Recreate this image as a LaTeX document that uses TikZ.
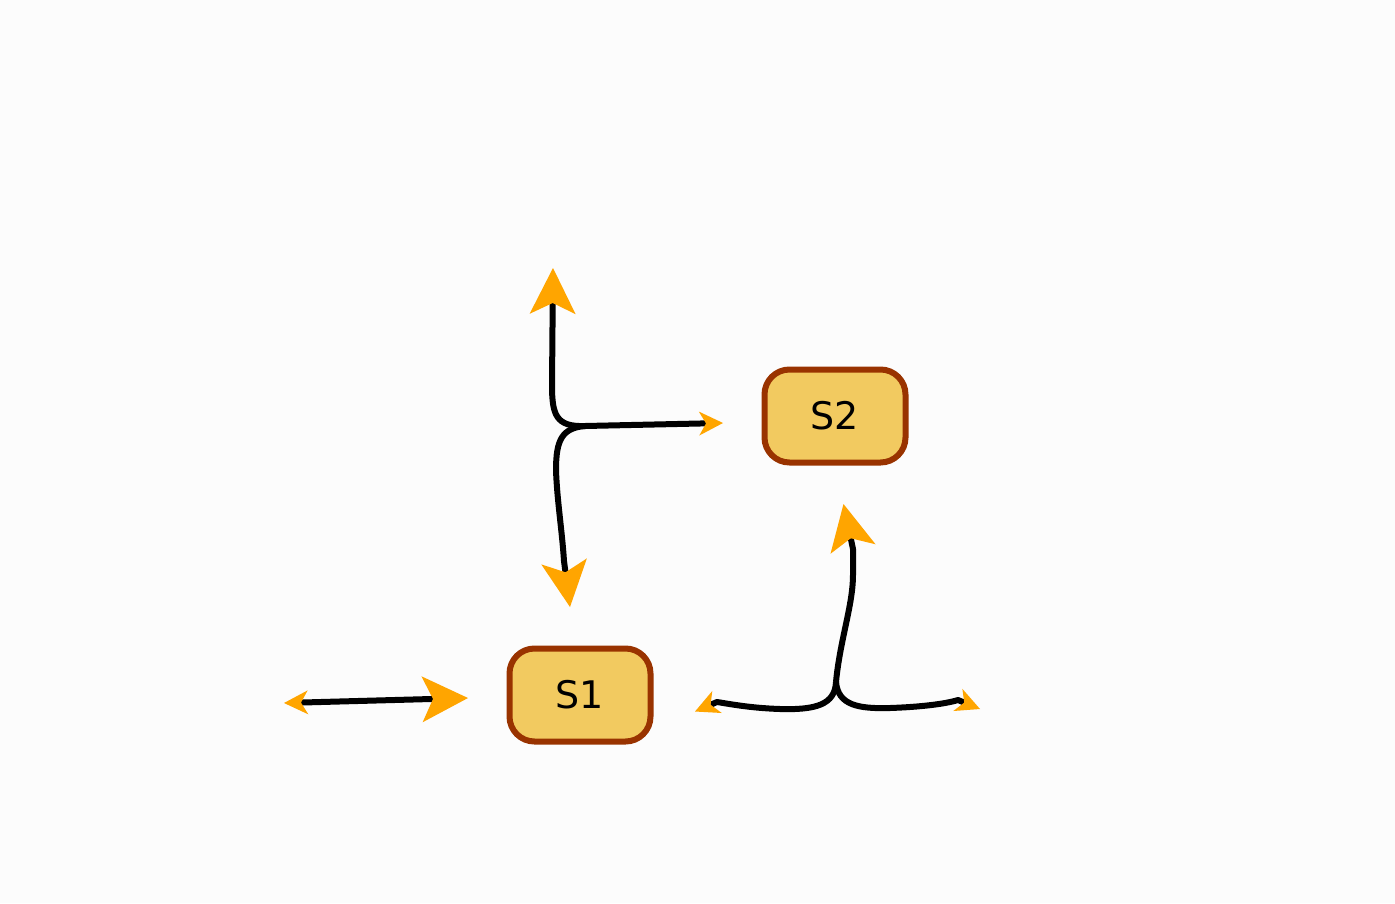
\documentclass[tikz,border=0pt]{standalone}
\usepackage{fontspec}
\setmainfont{DejaVu Sans}
\usetikzlibrary{arrows.meta}
\definecolor{pagebg}{HTML}{FCFCFC}
\definecolor{statefill}{HTML}{F2CA60}
\definecolor{stateline}{HTML}{993300}
\definecolor{headcol}{HTML}{FFA500}
\begin{document}
\begin{tikzpicture}[x=1pt,y=-1pt,
  BigHead/.tip={Stealth[length=46pt,width=46pt,inset=11pt,line width=0pt,color=headcol]},
  SmallHead/.tip={Stealth[length=24pt,width=24pt,inset=7pt,line width=0pt,color=headcol]},
  conn/.style={line width=6pt,draw=black,line join=round},
  state/.style={draw=stateline,fill=statefill,line width=6pt,rounded corners=25pt,
    minimum width=141pt,minimum height=93pt,inner sep=0pt,
    font=\fontsize{38}{40}\selectfont}]
  % page
  \fill[pagebg] (0,0) rectangle (1395,903);
  \useasboundingbox (0,0) rectangle (1395,903);

  % states
  \node[state] (s1) at (580,695) {S1};
  \node[state] (s2) at (835,416) {S2};

  % upper fork
  \coordinate (ja) at (585,426);
  \coordinate (ua) at (553,268);
  \coordinate (ra) at (723,423);
  \coordinate (da) at (570,607);
  \draw[conn,-BigHead] (ja) .. controls (556,427) and (552,415) .. (552,385) -- (ua);
  \draw[conn,-SmallHead] (ja) -- (ra);
  \draw[conn,-BigHead] (ja) .. controls (562,428) and (556,440) .. (556,470)
    .. controls (557,500) and (562,530) .. (564,561) -- (da);

  % double-headed arrow on the left
  \coordinate (bl) at (284,703);
  \coordinate (br) at (468,698);
  \draw[conn,SmallHead-BigHead] (bl) -- (br);

  % lower fork
  \coordinate (jc) at (836,682);
  \coordinate (uc) at (843.5,504);
  \coordinate (lc) at (695,711.5);
  \coordinate (rc) at (980,709);
  \draw[conn,-BigHead] (jc) .. controls (840,640) and (853,605) .. (853,575)
    -- (853,549) -- (uc);
  \draw[conn,-SmallHead] (jc) .. controls (835,705) and (815,710) .. (780,709)
    .. controls (750,708) and (730,704) .. (717,702) -- (lc);
  \draw[conn,-SmallHead] (jc) .. controls (838,705) and (858,709) .. (890,708)
    .. controls (920,707) and (945,704) .. (958,700) -- (rc);
\end{tikzpicture}
\end{document}
